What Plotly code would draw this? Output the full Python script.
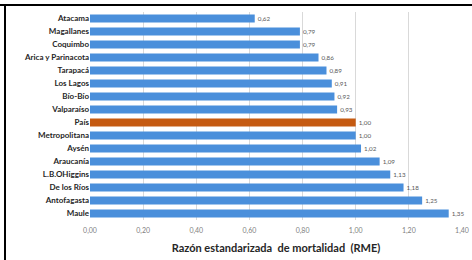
import plotly.graph_objects as go

regions = ["Atacama", "Magallanes", "Coquimbo", "Arica y Parinacota", "Tarapacá",
           "Los Lagos", "Bío-Bío", "Valparaíso", "País", "Metropolitana", "Aysén",
           "Araucanía", "L.B.OHiggins", "De los Ríos", "Antofagasta", "Maule"]
rme = [0.62, 0.79, 0.79, 0.86, 0.89, 0.91, 0.92, 0.93, 1.00, 1.00, 1.02,
       1.09, 1.13, 1.18, 1.25, 1.35]
tick_vals = [0, 0.2, 0.4, 0.6, 0.8, 1.0, 1.2, 1.4]

blue = "#4A8FDB"
orange = "#C55A11"
colors = [orange if r == "País" else blue for r in regions]
labels = [f"{v:.2f}".replace(".", ",") for v in rme]

fig = go.Figure(go.Bar(
    x=rme, y=regions, orientation="h",
    marker=dict(color=colors, line=dict(width=0)),
    text=labels, textposition="outside", cliponaxis=False,
    textfont=dict(size=7, color="#595959", family="Lato"),
))

fig.update_layout(
    width=472, height=260,
    margin=dict(l=90, r=10, t=12, b=40, autoexpand=False),
    paper_bgcolor="white", plot_bgcolor="white",
    separators=",.",
    bargap=0.38,
    showlegend=False,
    font=dict(family="Lato"),
    xaxis=dict(
        range=[0, 1.4], tickvals=tick_vals, tickformat=".2f",
        showgrid=True, gridcolor="#D9D9D9", gridwidth=1,
        zeroline=False, showline=False, automargin=False,
        tickfont=dict(size=7, color="#7F7F7F"), ticks="",
        ticklabelstandoff=5,
        title=dict(text="<b>Razón estandarizada  de mortalidad  (RME)</b>",
                   font=dict(size=11, color="#262626"), standoff=10),
    ),
    yaxis=dict(
        autorange="reversed", showgrid=False, showline=False, ticks="",
        automargin=False,
        tickfont=dict(size=8, color="#262626"),
        tickprefix="<b>", ticksuffix="</b>",
    ),
    shapes=[
        dict(type="line", xref="paper", yref="paper", x0=-90/372, x1=1.1, y0=1+7/208, y1=1+7/208,
             line=dict(color="black", width=2)),
        dict(type="line", xref="paper", yref="paper", x0=-85/372, x1=-85/372, y0=1+7/208, y1=-0.3,
             line=dict(color="black", width=2)),
    ],
)

fig.write_html("out.html", config={"displayModeBar": False},
               post_script="document.body.style.margin='0';document.body.style.overflow='hidden';")
